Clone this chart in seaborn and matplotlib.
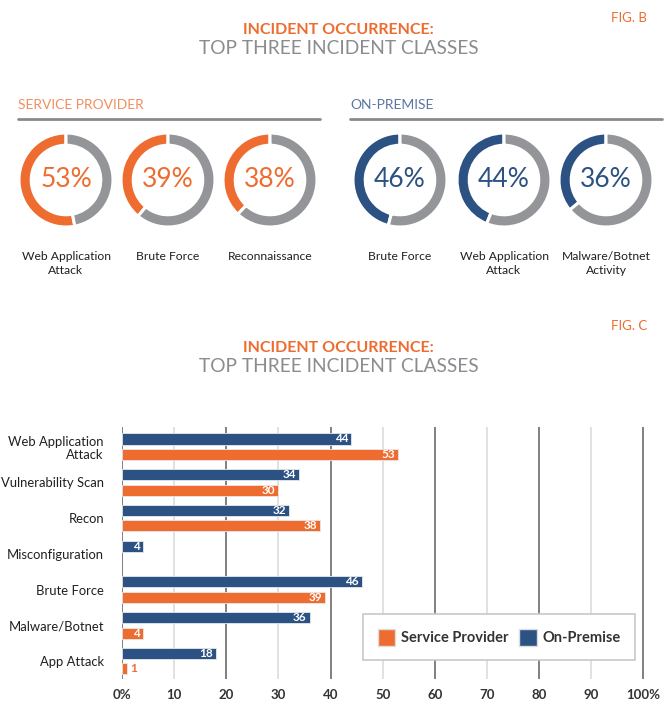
import matplotlib.pyplot as plt
import pandas as pd
import seaborn as sns
from matplotlib.lines import Line2D
from matplotlib.patches import Patch

sns.set_theme(style='white')
plt.rcParams['font.family'] = ['Lato', 'DejaVu Sans']

W, H = 665, 702

ORANGE = '#ee6c2f'
BLUE = '#2c5283'
GREY = '#939598'
TEXT = '#231f20'

# Fig. B donuts
sp_classes = ['Web Application\nAttack', 'Brute Force', 'Reconnaissance']
sp_values = [53, 39, 38]
op_classes = ['Brute Force', 'Web Application\nAttack', 'Malware/Botnet\nActivity']
op_values = [46, 44, 36]

# Fig. C bars
categories = ['Web Application\nAttack', 'Vulnerability Scan', 'Recon', 'Misconfiguration',
              'Brute Force', 'Malware/Botnet', 'App Attack']
service_provider = [53, 30, 38, None, 39, 4, 1]
on_premise = [44, 34, 32, 4, 46, 36, 18]
x_major = [0, 20, 40, 60, 80, 100]
x_major_labels = ['0%', '20', '40', '60', '80', '100%']
x_minor = [10, 30, 50, 70, 90]
x_minor_labels = ['10', '30', '50', '70', '90']


def px_axes(fig, left, top, width, height):
    """Adds an Axes placed in pixel units measured from the top-left corner."""
    return fig.add_axes([left / W, 1 - (top + height) / H, width / W, height / H])


def fig_text(fig, x, y, s, **kwargs):
    """Writes text at pixel coordinates measured from the top-left corner."""
    fig.text(x / W, 1 - y / H, s, **kwargs)


def draw_donut(fig, cx, cy, value, label, color):
    radius = 47
    ax = px_axes(fig, cx - 50, cy - 50, 100, 100)
    ax.pie([value, 100 - value], colors=[color, GREY], startangle=90, counterclock=True,
           radius=1, wedgeprops={'width': 0.26, 'edgecolor': 'white', 'linewidth': 2.2})
    lim = 50 / radius
    ax.set_xlim(-lim, lim)
    ax.set_ylim(-lim, lim)
    ax.set_aspect('equal')
    ax.axis('off')
    ax.text(0, 0.02, f'{value}%', ha='center', va='center', fontsize=19, color=color)
    fig_text(fig, cx, 251, label, ha='center', va='top', fontsize=8.7, color=TEXT, linespacing=1.3)


def draw_titles(fig, fig_y, title_y, fig_label):
    fig_text(fig, 647, fig_y, fig_label, ha='right', va='center', fontsize=9.5, color=ORANGE)
    fig_text(fig, 338, title_y, 'INCIDENT OCCURRENCE:', ha='center', va='center',
             fontsize=11.5, color=ORANGE, weight='bold')
    fig_text(fig, 339, title_y + 19, 'TOP THREE INCIDENT CLASSES', ha='center', va='center',
             fontsize=13.8, color='#8a8c8f')


def main():
    fig = plt.figure(figsize=(W / 100, H / 100), dpi=100)

    # ---- Fig. B ----
    draw_titles(fig, 18, 30, 'FIG. B')
    fig_text(fig, 18, 105, 'SERVICE PROVIDER', va='center', fontsize=10, color='#f28e5f')
    fig_text(fig, 350, 105, 'ON-PREMISE', va='center', fontsize=10, color='#5a77a0')
    for x0, x1 in [(18, 320), (350, 662)]:
        fig.add_artist(Line2D([x0 / W, x1 / W], [1 - 119 / H, 1 - 119 / H], color='#8a8a8a', lw=2))

    for cx, value, label in zip([66, 168, 270], sp_values, sp_classes):
        draw_donut(fig, cx, 180, value, label, ORANGE)
    for cx, value, label in zip([400, 504, 606], op_values, op_classes):
        draw_donut(fig, cx, 180, value, label, BLUE)

    # ---- Fig. C ----
    draw_titles(fig, 326, 348, 'FIG. C')
    rows = []
    for cat, sp, op in zip(categories, service_provider, on_premise):
        rows.append({'category': cat, 'source': 'On-Premise', 'value': op})
        if sp is not None:
            rows.append({'category': cat, 'source': 'Service Provider', 'value': sp})
    data = pd.DataFrame(rows)

    ax = px_axes(fig, 122, 427, 524, 252)
    sns.barplot(data=data, y='category', x='value', hue='source', order=categories,
                hue_order=['On-Premise', 'Service Provider'],
                palette={'On-Premise': BLUE, 'Service Provider': ORANGE}, saturation=1,
                orient='h', width=0.86, gap=0.28, edgecolor='#e8e8e8', linewidth=0.6,
                legend=False, ax=ax, zorder=3)
    ax.set_xlim(0, 100.5)
    ax.set_ylim(len(categories) - 0.5, -0.55)
    ax.set_xticks(x_major, x_major_labels)
    ax.set_xticks(x_minor, x_minor_labels, minor=True)
    ax.set_yticks(range(len(categories)), categories, multialignment='right', linespacing=1.1)
    ax.grid(axis='x', which='major', color='#808080', lw=1.4, zorder=0)
    ax.grid(axis='x', which='minor', color='#dcdcdc', lw=1.2, zorder=0)
    ax.grid(axis='y', visible=False)
    ax.tick_params(axis='x', which='both', length=0, pad=7, labelsize=9.5, labelcolor='#333333')
    ax.tick_params(axis='y', length=0, pad=13, labelsize=9.4, labelcolor=TEXT)
    for lbl in ax.get_xticklabels(which='both'):
        lbl.set_fontweight('bold')
    ax.set_xlabel('')
    ax.set_ylabel('')
    for spine in ax.spines.values():
        spine.set_visible(False)

    for container, color in zip(ax.containers, [BLUE, ORANGE]):
        for patch in container:
            width = patch.get_width()
            if width != width:
                continue
            y = patch.get_y() + patch.get_height() / 2
            if width < 3:
                ax.text(width + 0.6, y, f'{width:.0f}', ha='left', va='center',
                        fontsize=8.5, color=color, weight='bold', zorder=4)
            else:
                ax.text(width - 0.6, y, f'{width:.0f}', ha='right', va='center',
                        fontsize=8.5, color='white', weight='bold', zorder=4)

    handles = [Patch(facecolor=ORANGE, edgecolor='#dddddd', label='Service Provider'),
               Patch(facecolor=BLUE, edgecolor='#dddddd', label='On-Premise')]
    leg = ax.legend(handles=handles, ncol=2, loc='center', bbox_to_anchor=(0.72, 0.165),
                    frameon=True, fancybox=False, edgecolor='#c8c8c8', framealpha=1,
                    handlelength=1.2, handleheight=1.4, handletextpad=0.4, columnspacing=0.7,
                    borderpad=1.0, borderaxespad=0, prop={'size': 10.5, 'weight': 'bold'})
    leg.get_frame().set_linewidth(1.2)
    for txt in leg.get_texts():
        txt.set_color('#333333')

    fig.savefig('out.png', dpi=100)


if __name__ == '__main__':
    main()
